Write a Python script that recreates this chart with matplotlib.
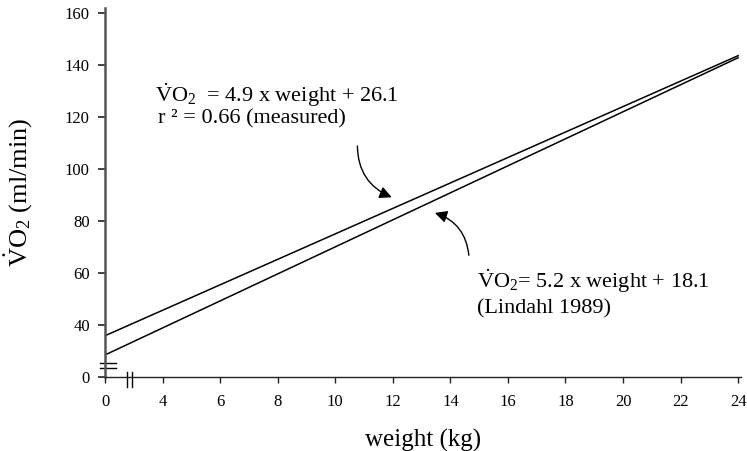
import matplotlib
matplotlib.use("Agg")
import matplotlib.pyplot as plt
import numpy as np

plt.rcParams['font.family'] = ['Liberation Serif', 'DejaVu Serif']
plt.rcParams['mathtext.fontset'] = 'custom'
plt.rcParams['mathtext.rm'] = 'Liberation Serif'
plt.rcParams['mathtext.it'] = 'Liberation Serif:italic'

# regression lines: VO2 = slope * weight + intercept
x_range = [2, 24]
measured = {'slope': 4.9, 'intercept': 26.1}
lindahl = {'slope': 5.2, 'intercept': 18.1}

xticks = [2, 4, 6, 8, 10, 12, 14, 16, 18, 20, 22, 24]
xticklabels = ['0', '4', '6', '8', '10', '12', '14', '16', '18', '20', '22', '24']
yticks = [20, 40, 60, 80, 100, 120, 140, 160]
yticklabels = ['0', '40', '60', '80', '100', '120', '140', '160']

fig = plt.figure(figsize=(7.47, 4.51), dpi=100)
ax = fig.add_axes([0.1406, 0.164, 0.8514, 0.818])

x = np.array(x_range, dtype=float)
for fit in (measured, lindahl):
    ax.plot(x, fit['slope'] * x + fit['intercept'], color='black', lw=1.1)

ax.set_xlim(2, 24.1)
ax.set_ylim(20, 162)
ax.set_xticks(xticks)
ax.set_xticklabels(xticklabels)
ax.set_yticks(yticks)
ax.set_yticklabels(yticklabels)

for s in ['top', 'right']:
    ax.spines[s].set_visible(False)
ax.spines['left'].set_color('#555555')
ax.spines['left'].set_linewidth(1.8)
ax.spines['bottom'].set_color('#222222')
ax.spines['bottom'].set_linewidth(1.0)
ax.tick_params(axis='y', direction='out', length=5, width=1.2, colors='#222222', labelsize=12, pad=6)
ax.tick_params(axis='x', direction='out', length=4, width=1.0, colors='#222222', labelsize=12, pad=8)
ax.tick_params(labelcolor='black')

ax.set_xlabel('weight (kg)', fontsize=18, labelpad=14)
ax.set_ylabel(r'$\dot{\mathrm{V}}\mathrm{O}_2$ (ml/min)', fontsize=19, labelpad=22)

# axis break marks
kw = dict(transform=ax.transAxes, color='black', lw=1.0, clip_on=False)
for yy in (0.038, 0.0244):
    ax.plot([-0.0079, 0.0173], [yy, yy], **kw)
for xx in (0.0342, 0.042):
    ax.plot([xx, xx], [0.0136, -0.027], **kw)

# equation labels
ax.text(3.73, 125.8, r'$\dot{\mathrm{V}}\mathrm{O}_2$  = 4.9 x weight + 26.1', fontsize=16, va='baseline')
ax.text(3.85, 117.7, 'r \u00b2 = 0.66 (measured)', fontsize=16, va='baseline')
ax.text(14.92, 54.2, r'$\dot{\mathrm{V}}\mathrm{O}_2$= 5.2 x weight + 18.1', fontsize=16, va='baseline')
ax.text(14.92, 44.5, '(Lindahl 1989)', fontsize=16, va='baseline')

arrow = dict(arrowstyle='-|>', color='black', lw=1.0, mutation_scale=18)
ax.annotate('', xy=(12.05, 88.8), xytext=(10.77, 110),
            arrowprops=dict(connectionstyle='arc3,rad=0.35', **arrow))
ax.annotate('', xy=(13.37, 83.5), xytext=(14.65, 65.8),
            arrowprops=dict(connectionstyle='arc3,rad=0.35', **arrow))

fig.savefig('out.png', dpi=100)
